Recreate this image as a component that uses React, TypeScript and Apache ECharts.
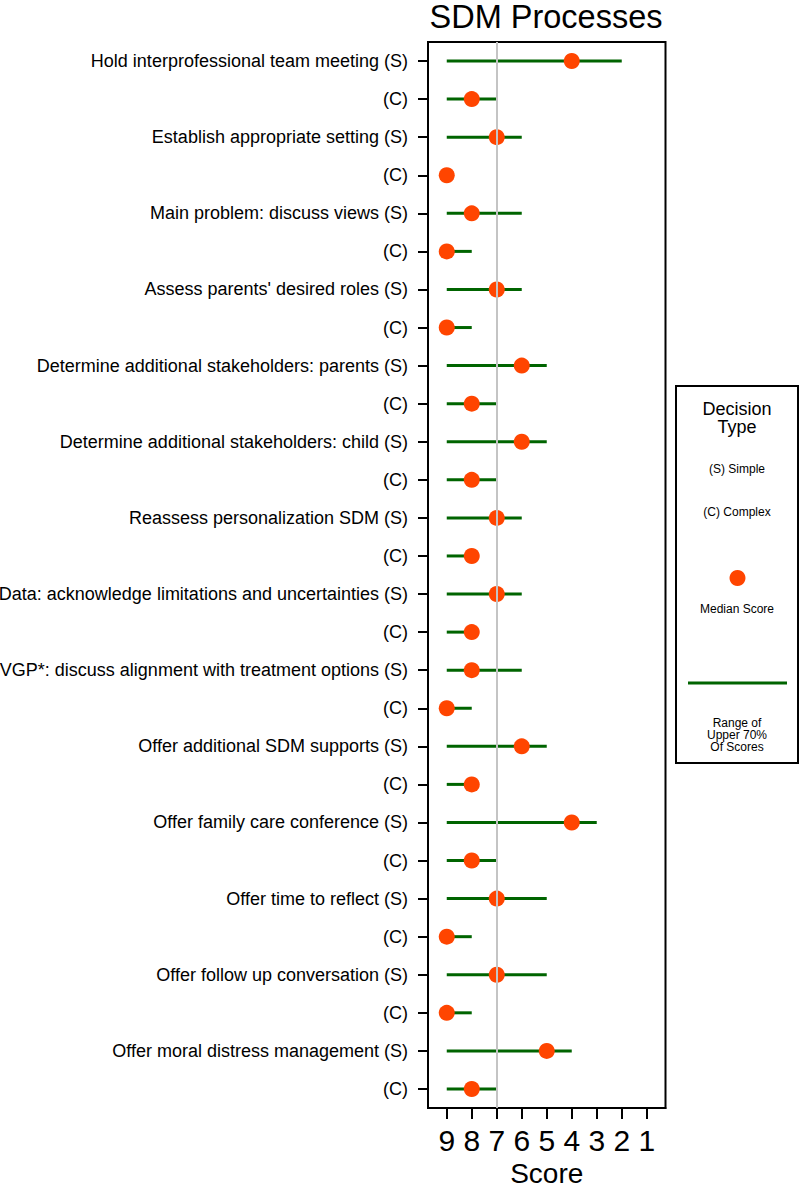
import React, { useEffect, useRef } from "react";
import * as echarts from "echarts";

const categories: string[] = [
  "Hold interprofessional team meeting (S)", "(C)",
  "Establish appropriate setting (S)", "(C)",
  "Main problem: discuss views (S)", "(C)",
  "Assess parents' desired roles (S)", "(C)",
  "Determine additional stakeholders: parents (S)", "(C)",
  "Determine additional stakeholders: child (S)", "(C)",
  "Reassess personalization SDM (S)", "(C)",
  "Data: acknowledge limitations and uncertainties (S)", "(C)",
  "VGP*: discuss alignment with treatment options (S)", "(C)",
  "Offer additional SDM supports (S)", "(C)",
  "Offer family care conference (S)", "(C)",
  "Offer time to reflect (S)", "(C)",
  "Offer follow up conversation (S)", "(C)",
  "Offer moral distress management (S)", "(C)",
];

const medians: number[] = [4, 8, 7, 9, 8, 9, 7, 9, 6, 8, 6, 8, 7, 8, 7, 8, 8, 9, 6, 8, 4, 8, 7, 9, 7, 9, 5, 8];
const rangeLow: number[] = [9, 9, 9, 9, 9, 9, 9, 9, 9, 9, 9, 9, 9, 9, 9, 9, 9, 9, 9, 9, 9, 9, 9, 9, 9, 9, 9, 9];
const rangeHigh: number[] = [2, 7, 6, 9, 6, 8, 6, 8, 5, 7, 5, 7, 6, 8, 6, 8, 6, 8, 5, 8, 3, 7, 5, 8, 5, 8, 4, 7];
const xTicks: number[] = [1, 2, 3, 4, 5, 6, 7, 8, 9];
const referenceScore = 7;

const FONT = "'Liberation Sans', Arial, Helvetica, sans-serif";
const GREEN = "#006400";
const ORANGE = "#FF4500";

export default function App() {
  const ref = useRef<HTMLDivElement>(null);
  useEffect(() => {
    if (!ref.current) return;
    const chart = echarts.init(ref.current, null, { renderer: "svg" });
    const rangeData = categories.map((_, i) => [rangeLow[i], i, rangeHigh[i]]);
    const medianData = categories.map((_, i) => [medians[i], i]);
    const option: any = {
      animation: false,
      backgroundColor: "#fff",
      textStyle: { fontFamily: FONT },
      grid: {
        left: 428,
        right: 134.5,
        top: 42,
        bottom: 82,
        containLabel: false,
        outerBoundsMode: "none",
        show: true,
        borderColor: "#000",
        borderWidth: 2,
        backgroundColor: "transparent",
      },
      xAxis: {
        type: "value",
        inverse: true,
        min: 0.25,
        max: 9.75,
        name: "Score",
        nameLocation: "middle",
        nameGap: 51,
        nameTextStyle: { fontSize: 28, color: "#000", fontFamily: FONT },
        axisLine: { show: true, lineStyle: { color: "#000", width: 2 } },
        axisTick: { show: true, length: 11, customValues: xTicks, lineStyle: { color: "#000", width: 2 } },
        axisLabel: { customValues: xTicks, fontSize: 30, color: "#000", margin: 17, fontFamily: FONT },
        splitLine: { show: false },
      },
      yAxis: {
        type: "category",
        inverse: true,
        data: categories,
        axisLine: { show: true, lineStyle: { color: "#000", width: 2 } },
        axisTick: { show: true, length: 10, alignWithLabel: true, lineStyle: { color: "#000", width: 2 } },
        axisLabel: { interval: 0, fontSize: 18, color: "#000", margin: 20, fontFamily: FONT },
        splitLine: { show: false },
      },
      graphic: [
        {
          type: "text",
          style: { text: "SDM Processes", x: 546, y: 17, textAlign: "center", textVerticalAlign: "middle", font: `32.5px ${FONT}`, fill: "#000" },
        },
        {
          type: "rect",
          shape: { x: 676, y: 386, width: 122, height: 377 },
          style: { fill: "#fff", stroke: "#000", lineWidth: 2 },
        },
        { type: "text", style: { text: "Decision", x: 737, y: 409, textAlign: "center", textVerticalAlign: "middle", font: `18px ${FONT}`, fill: "#000" } },
        { type: "text", style: { text: "Type", x: 737, y: 427, textAlign: "center", textVerticalAlign: "middle", font: `18px ${FONT}`, fill: "#000" } },
        { type: "text", style: { text: "(S) Simple", x: 737, y: 469, textAlign: "center", textVerticalAlign: "middle", font: `12px ${FONT}`, fill: "#000" } },
        { type: "text", style: { text: "(C) Complex", x: 737, y: 512, textAlign: "center", textVerticalAlign: "middle", font: `12px ${FONT}`, fill: "#000" } },
        { type: "circle", shape: { cx: 737.5, cy: 578, r: 8 }, style: { fill: ORANGE } },
        { type: "text", style: { text: "Median Score", x: 737, y: 609, textAlign: "center", textVerticalAlign: "middle", font: `12px ${FONT}`, fill: "#000" } },
        { type: "line", shape: { x1: 688, y1: 683, x2: 787, y2: 683 }, style: { stroke: GREEN, lineWidth: 3 } },
        { type: "text", style: { text: "Range of", x: 737, y: 723, textAlign: "center", textVerticalAlign: "middle", font: `12px ${FONT}`, fill: "#000" } },
        { type: "text", style: { text: "Upper 70%", x: 737, y: 735, textAlign: "center", textVerticalAlign: "middle", font: `12px ${FONT}`, fill: "#000" } },
        { type: "text", style: { text: "Of Scores", x: 737, y: 747, textAlign: "center", textVerticalAlign: "middle", font: `12px ${FONT}`, fill: "#000" } },
      ],
      series: [
        {
          type: "scatter",
          name: "Reference",
          z: 1,
          symbolSize: 0,
          data: [],
          markLine: {
            silent: true,
            symbol: ["none", "none"],
            label: { show: false },
            lineStyle: { color: "#c4c4c4", width: 2, type: "solid" },
            data: [{ xAxis: referenceScore }],
          },
        },
        {
          type: "custom",
          name: "Range",
          z: 2,
          encode: { x: 0, y: 1 },
          data: rangeData,
          renderItem: (params: any, api: any) => {
            const lo = api.value(0);
            const idx = api.value(1);
            const hi = api.value(2);
            const p1 = api.coord([lo, idx]);
            const p2 = api.coord([hi, idx]);
            return {
              type: "line",
              shape: { x1: p1[0], y1: p1[1], x2: p2[0], y2: p2[1] },
              style: { stroke: GREEN, lineWidth: 3 },
            };
          },
        },
        {
          type: "scatter",
          name: "Median",
          z: 3,
          symbol: "circle",
          symbolSize: 16,
          itemStyle: { color: ORANGE, opacity: 1 },
          data: medianData,
        },
      ],
    };
    chart.setOption(option);
    return () => chart.dispose();
  }, []);
  return (
    <div
      ref={ref}
      style={{ position: "absolute", left: 0, top: 0, width: 800, height: 1190 }}
    />
  );
}
